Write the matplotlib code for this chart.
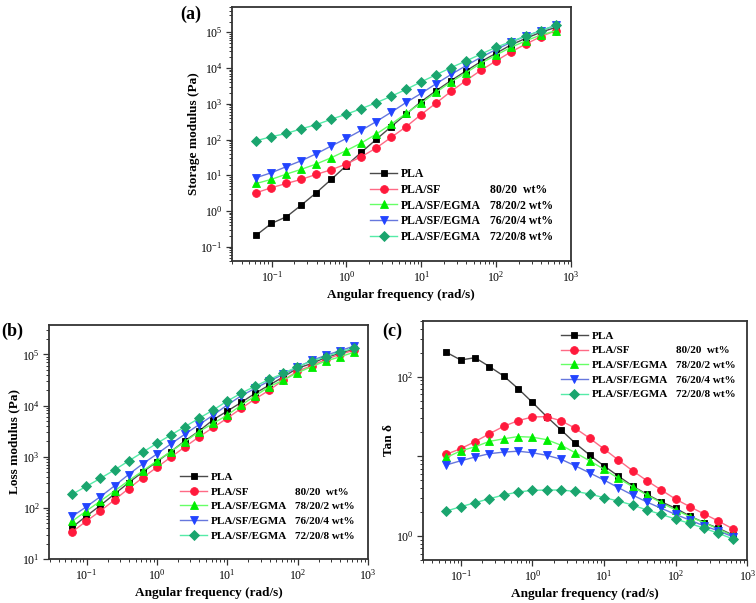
import numpy as np
import matplotlib
matplotlib.use('Agg')
import matplotlib.pyplot as plt
from matplotlib.ticker import LogLocator, FuncFormatter, NullFormatter, LogFormatterSciNotation
from matplotlib.lines import Line2D

plt.rcParams['font.family'] = ['Liberation Serif', 'DejaVu Serif']
plt.rcParams['mathtext.fontset'] = 'stix'

# ---------------- data ----------------
freq = [0.0628, 0.0995, 0.158, 0.25, 0.396, 0.628, 0.995, 1.58, 2.5, 3.96, 6.28,
        9.95, 15.8, 25.0, 39.6, 62.8, 99.5, 158, 250, 396, 628]

series_names = ["PLA", "PLA/SF", "PLA/SF/EGMA", "PLA/SF/EGMA", "PLA/SF/EGMA"]
compositions = ["", "80/20  wt%", "78/20/2 wt%", "76/20/4 wt%", "72/20/8 wt%"]

# (a) storage modulus (Pa)
storage_pla = [0.213, 0.45, 0.69, 1.47, 3.26, 7.7, 18.6, 43.9, 101, 229, 518, 1150, 2330,
               4470, 8300, 15200, 25800, 44500, 68000, 100000, 138000]
storage_sf = [3.26, 4.5, 5.9, 7.7, 10.6, 14.3, 20.7, 33, 58, 115, 229, 500, 1050, 2230,
              4470, 8700, 15800, 28300, 47000, 76000, 111000]
storage_e2 = [5.9, 7.7, 10.8, 14.7, 20.7, 31, 49, 80, 142, 270, 540, 1050, 2100, 4100,
              7400, 13600, 23000, 38000, 58000, 84000, 110000]
storage_e4 = [8.6, 11.8, 17.5, 25.6, 40, 66, 107, 181, 318, 580, 1090, 1950, 3650, 6600,
              11700, 20000, 32800, 52500, 79000, 111000, 157000]
storage_e8 = [93, 120, 148, 200, 260, 370, 510, 730, 1070, 1620, 2530, 4100, 6500, 10300,
              15800, 24600, 38000, 55000, 79000, 111000, 157000]

# (b) loss modulus (Pa)
loss_pla = [42, 69, 112, 186, 309, 501, 794, 1259, 2042, 3162, 5250, 7760, 11500, 17400,
            25100, 36300, 53700, 66100, 87100, 104700, 125900]
loss_sf = [34, 55, 87, 143, 237, 389, 617, 977, 1550, 2430, 3720, 5620, 8810, 13500,
           20000, 31600, 46800, 60300, 79400, 100000, 120000]
loss_e2 = [55, 87, 136, 214, 339, 525, 824, 1259, 1950, 3090, 4470, 6460, 10200, 15500,
           23400, 31600, 43600, 57500, 74100, 89100, 110000]
loss_e4 = [68, 105, 166, 269, 447, 724, 1122, 1778, 2754, 4217, 6460, 10200, 15500, 21700,
           30200, 40700, 56200, 75900, 95500, 117500, 144500]
loss_e8 = [185, 263, 378, 550, 824, 1219, 1820, 2655, 3855, 5620, 8130, 12200, 17400, 24000,
           32400, 42700, 57500, 74100, 89100, 112200, 131800]

# (c) tan delta
tan_pla = [202, 162, 173, 134, 102, 71, 47.7, 31.5, 21.5, 14.6, 10.4, 7.6, 5.66, 4.25,
           3.33, 2.69, 2.23, 1.78, 1.47, 1.25, 1.03]
tan_sf = [10.6, 12.5, 15.3, 19.2, 23.8, 28, 31.2, 31.5, 28, 22.5, 16.9, 12.4, 9.0, 6.6,
          4.95, 3.78, 2.91, 2.33, 1.89, 1.54, 1.23]
tan_e2 = [9.7, 11.7, 13.2, 15.4, 16.6, 17.7, 17.4, 16.2, 13.8, 11.1, 8.8, 6.9, 5.3, 4.16,
          3.27, 2.62, 2.12, 1.75, 1.47, 1.22, 1.01]
tan_e4 = [7.8, 8.8, 9.8, 10.8, 11.3, 11.6, 11.1, 10.3, 9.2, 7.6, 6.2, 5.05, 4.05, 3.27,
          2.67, 2.23, 1.87, 1.58, 1.34, 1.16, 0.98]
tan_e8 = [2.06, 2.33, 2.62, 2.94, 3.27, 3.57, 3.74, 3.78, 3.78, 3.63, 3.37, 3.03, 2.75,
          2.45, 2.12, 1.87, 1.63, 1.44, 1.25, 1.08, 0.92]

# ---------------- styles ----------------
markers = ['s', 'o', '^', 'v', 'D']
msizes = [4.8, 5.6, 5.8, 5.8, 4.8]
mcolors = ['#000000', '#FF1A3C', '#00EE00', '#2244FF', '#1AA56E']
lcolors = ['#4A4A4A', '#FF6A85', '#66FF66', '#6677DD', '#55EBA8']

fig = plt.figure(figsize=(7.56, 6.03), dpi=100)
ax_a = fig.add_axes([0.3065, 0.5672, 0.4488, 0.4212])
ax_b = fig.add_axes([0.0648, 0.0730, 0.4220, 0.3885])
ax_c = fig.add_axes([0.5591, 0.0713, 0.4294, 0.3964])


def draw(ax, ys):
    hs = []
    for i, y in enumerate(ys):
        h, = ax.plot(freq, y, color=lcolors[i], lw=1.0, marker=markers[i],
                     ms=msizes[i], mfc=mcolors[i], mec=mcolors[i], mew=0.6)
        hs.append(h)
    return hs


def style(ax, xlabel, ylabel, ylim, fs_tick=8.5, ylabelpad=3):
    ax.set_xscale('log')
    ax.set_yscale('log')
    ax.set_xlim(0.0293, 1000)
    ax.set_ylim(*ylim)
    for s in ax.spines.values():
        s.set_linewidth(1.3)
        s.set_color('#333333')
    ax.xaxis.set_major_locator(LogLocator(base=10, numticks=20))
    ax.xaxis.set_minor_locator(LogLocator(base=10, subs=np.arange(2, 10), numticks=50))
    ax.yaxis.set_major_locator(LogLocator(base=10, numticks=20))
    ax.yaxis.set_minor_locator(LogLocator(base=10, subs=np.arange(2, 10), numticks=50))
    ax.xaxis.set_minor_formatter(NullFormatter())
    ax.yaxis.set_minor_formatter(NullFormatter())
    ax.tick_params(which='major', direction='out', length=4, width=0.9,
                   labelsize=fs_tick, top=False, right=False, color='#333333', pad=2.5)
    ax.tick_params(which='minor', direction='out', length=2, width=0.7,
                   top=False, right=False, color='#333333')
    ax.set_xlabel(xlabel, fontsize=9.5, fontweight='bold', labelpad=3)
    ax.set_ylabel(ylabel, fontsize=9.5, fontweight='bold', labelpad=ylabelpad)


def add_legend(ax, handles, anchor, fs, gap_px, ls):
    fs_px = fs * 100 / 72.0
    hl = 27.0 / fs_px
    htp = 3.5 / fs_px
    colsp = gap_px / fs_px - hl - htp
    blanks = [Line2D([], [], linestyle='none') for _ in compositions]
    ax.legend(handles + blanks, series_names + compositions, ncol=2,
              loc='upper left', bbox_to_anchor=anchor, frameon=False,
              borderpad=0, borderaxespad=0, handlelength=hl, handletextpad=htp,
              columnspacing=colsp, labelspacing=ls,
              prop={'weight': 'bold', 'size': fs})


ha = draw(ax_a, [storage_pla, storage_sf, storage_e2, storage_e4, storage_e8])
style(ax_a, 'Angular frequency (rad/s)', 'Storage modulus (Pa)', (0.04, 5.1e5), ylabelpad=0)
add_legend(ax_a, ha, (0.4076, 0.366), 8.5, 9.5, 0.32)

hb = draw(ax_b, [loss_pla, loss_sf, loss_e2, loss_e4, loss_e8])
style(ax_b, 'Angular frequency (rad/s)', 'Loss modulus (Pa)', (10, 3.8e5), ylabelpad=1)
add_legend(ax_b, hb, (0.4107, 0.371), 8, 8.3, 0.44)

hc = draw(ax_c, [tan_pla, tan_sf, tan_e2, tan_e4, tan_e8])
style(ax_c, 'Angular frequency (rad/s)', 'Tan \u03b4', (0.5, 500), ylabelpad=1)
sci = LogFormatterSciNotation()
ax_c.yaxis.set_major_formatter(FuncFormatter(
    lambda v, p: sci(v, p) if abs(np.log10(v)) % 2 < 0.01 else ''))
add_legend(ax_c, hc, (0.426, 0.958), 8, 8.3, 0.44)

fig.text(180 / 756, 1 - 14 / 603, '(a)', fontsize=13, fontweight='bold', ha='left', va='center')
fig.text(1 / 756, 1 - 331 / 603, '(b)', fontsize=13, fontweight='bold', ha='left', va='center')
fig.text(382 / 756, 1 - 331 / 603, '(c)', fontsize=13, fontweight='bold', ha='left', va='center')

fig.savefig('out.png', dpi=100)
